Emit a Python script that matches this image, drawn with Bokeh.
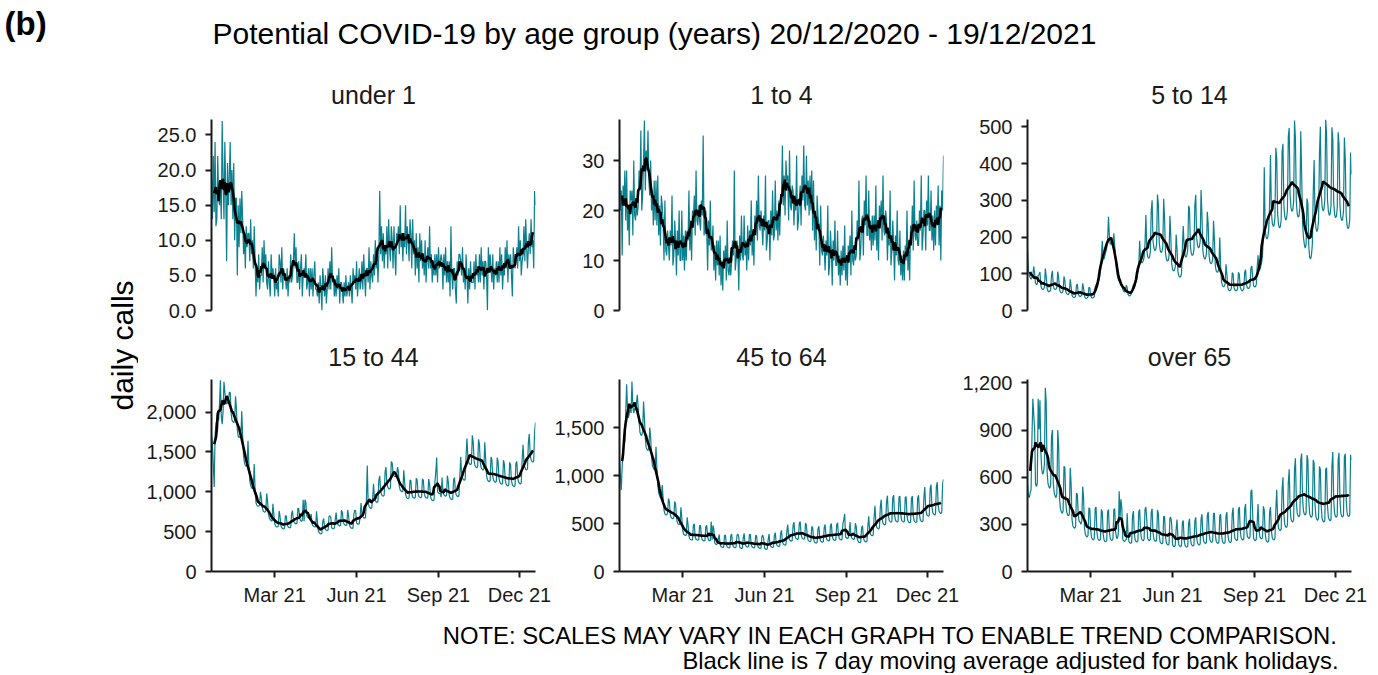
import numpy as np
import pandas as pd
from bokeh.plotting import figure
from bokeh.layouts import column, row
from bokeh.models import Range1d, FixedTicker, NumeralTickFormatter, DatetimeTickFormatter, ColumnDataSource
from bokeh.core.properties import value
from bokeh.embed import file_html
from bokeh.resources import INLINE

START = "2020-12-20"
END = "2021-12-19"
dates = pd.date_range(START, END, freq="D")

groups = ["under 1", "1 to 4", "5 to 14", "15 to 44", "45 to 64", "over 65"]

under_1 = [
    19, 13, 22, 14, 24, 12, 13,
    22, 16, 15, 18, 13, 27, 19,
    13, 24, 17, 7, 21, 15, 19,
    24, 15, 20, 13, 21, 10, 16,
    16, 5, 15, 9, 16, 11, 17,
    13, 8, 11, 6, 12, 9, 11,
    11, 7, 13, 8, 10, 6, 12,
    7, 2, 6, 4, 8, 3, 5,
    5, 9, 4, 10, 6, 8, 4,
    3, 7, 4, 2, 8, 5, 6,
    5, 2, 6, 3, 4, 2, 8,
    7, 4, 9, 3, 6, 5, 5,
    3, 6, 2, 5, 4, 8, 4,
    5, 7, 11, 6, 9, 4, 4,
    7, 3, 6, 8, 2, 5, 6,
    5, 8, 3, 4, 6, 2, 6,
    3, 6, 2, 5, 7, 3, 3,
    2, 4, 1, 5, 3, 0, 6,
    4, 2, 5, 1, 3, 6, 3,
    7, 3, 9, 4, 5, 2, 4,
    2, 5, 3, 6, 1, 4, 4,
    3, 1, 4, 2, 5, 2, 3,
    4, 2, 5, 3, 1, 6, 4,
    5, 3, 7, 2, 4, 6, 3,
    4, 7, 3, 8, 5, 2, 6,
    6, 4, 9, 3, 7, 5, 4,
    8, 5, 10, 6, 9, 4, 8,
    17, 8, 12, 7, 11, 6, 9,
    8, 12, 6, 13, 9, 7, 12,
    10, 6, 12, 8, 5, 11, 10,
    12, 8, 15, 9, 11, 7, 11,
    9, 15, 8, 12, 10, 7, 13,
    11, 6, 13, 8, 10, 5, 11,
    6, 9, 4, 11, 7, 10, 6,
    8, 5, 10, 4, 7, 9, 6,
    12, 6, 8, 4, 7, 5, 8,
    5, 8, 4, 9, 6, 7, 8,
    7, 3, 8, 5, 9, 4, 7,
    4, 7, 2, 12, 5, 3, 6,
    6, 3, 1, 7, 5, 8, 8,
    7, 5, 9, 4, 6, 3, 8,
    5, 1, 6, 3, 7, 4, 4,
    4, 7, 3, 8, 5, 6, 4,
    8, 4, 9, 5, 7, 3, 7,
    7, 5, 0, 9, 6, 8, 6,
    4, 8, 3, 6, 5, 7, 4,
    7, 4, 9, 5, 8, 3, 6,
    5, 9, 6, 10, 4, 8, 6,
    8, 5, 2, 9, 7, 6, 7,
    9, 6, 12, 7, 10, 5, 7,
    8, 12, 7, 13, 9, 6, 9,
    11, 8, 13, 9, 10, 6, 17,
    15,
]

age_1_to_4 = [
    32, 20, 24, 11, 25, 21, 28,
    18, 28, 16, 21, 13, 24, 22,
    24, 15, 30, 19, 18, 22, 19,
    21, 28, 24, 36, 20, 23, 30,
    38, 24, 32, 28, 36, 26, 23,
    30, 20, 24, 17, 26, 18, 26,
    17, 27, 15, 21, 13, 23, 21,
    18, 10, 22, 12, 11, 16, 13,
    10, 16, 13, 23, 9, 11, 18,
    14, 7, 16, 11, 20, 10, 10,
    20, 10, 15, 8, 16, 10, 16,
    14, 24, 12, 18, 10, 20, 18,
    23, 15, 28, 18, 17, 21, 18,
    16, 22, 19, 35, 15, 17, 20,
    16, 8, 18, 13, 22, 12, 13,
    17, 8, 13, 6, 14, 9, 14,
    7, 15, 5, 10, 4, 12, 9,
    13, 6, 18, 8, 7, 10, 7,
    10, 14, 11, 28, 8, 10, 14,
    12, 4, 15, 10, 19, 11, 10,
    19, 11, 14, 8, 17, 10, 16,
    13, 22, 11, 16, 9, 19, 15,
    22, 14, 27, 17, 16, 20, 17,
    13, 19, 16, 27, 12, 14, 18,
    18, 10, 20, 15, 24, 14, 15,
    26, 16, 20, 14, 22, 15, 22,
    23, 33, 21, 27, 19, 30, 26,
    27, 18, 32, 21, 20, 25, 24,
    17, 23, 20, 31, 16, 18, 22,
    25, 17, 27, 22, 33, 21, 20,
    31, 21, 26, 19, 27, 20, 28,
    16, 26, 14, 20, 12, 23, 19,
    17, 9, 21, 12, 11, 15, 12,
    8, 14, 11, 21, 7, 9, 16,
    12, 5, 14, 10, 18, 9, 9,
    16, 7, 11, 5, 12, 7, 13,
    8, 17, 6, 11, 5, 13, 10,
    15, 7, 20, 10, 9, 13, 10,
    11, 18, 14, 26, 10, 12, 18,
    19, 11, 22, 17, 27, 15, 15,
    24, 14, 18, 12, 19, 13, 19,
    14, 25, 12, 18, 10, 21, 18,
    22, 14, 27, 16, 15, 20, 18,
    10, 16, 13, 24, 9, 12, 18,
    13, 6, 15, 11, 20, 10, 9,
    16, 7, 11, 6, 12, 6, 13,
    10, 20, 8, 13, 6, 17, 14,
    21, 12, 26, 15, 14, 18, 13,
    13, 20, 16, 27, 12, 15, 20,
    20, 12, 22, 17, 27, 16, 16,
    24, 14, 19, 12, 20, 13, 21,
    17, 25, 13, 21, 10, 24, 20,
    31,
]

age_5_to_14 = [
    170, 110, 95, 90, 85, 90, 95,
    120, 100, 75, 70, 72, 95, 98,
    105, 68, 60, 57, 58, 63, 114,
    94, 60, 53, 51, 52, 56, 96,
    108, 67, 59, 57, 58, 63, 106,
    90, 57, 50, 48, 49, 54, 93,
    81, 51, 46, 44, 44, 48, 85,
    66, 41, 37, 35, 36, 39, 68,
    72, 45, 40, 38, 39, 42, 74,
    61, 39, 34, 33, 34, 37, 63,
    62, 40, 35, 34, 35, 38, 64,
    70, 62, 70, 80, 90, 110, 148,
    190, 150, 140, 150, 160, 170, 195,
    255, 200, 180, 185, 180, 176, 210,
    175, 140, 110, 95, 85, 80, 85,
    80, 70, 58, 52, 50, 55, 69,
    62, 44, 40, 40, 42, 48, 60,
    70, 60, 70, 80, 90, 105, 120,
    190, 140, 130, 130, 135, 145, 180,
    260, 165, 147, 142, 144, 160, 270,
    300, 190, 170, 163, 165, 180, 316,
    290, 185, 164, 158, 160, 174, 304,
    250, 158, 140, 135, 136, 148, 258,
    200, 126, 112, 108, 109, 118, 207,
    168, 106, 94, 91, 92, 100, 175,
    230, 170, 150, 145, 150, 165, 285,
    277, 176, 156, 150, 152, 166, 288,
    315, 200, 178, 171, 173, 189, 328,
    258, 164, 146, 140, 142, 155, 269,
    234, 149, 132, 127, 129, 140, 244,
    192, 122, 108, 104, 105, 115, 199,
    121, 77, 68, 65, 66, 72, 126,
    99, 63, 56, 54, 55, 60, 103,
    100, 62, 56, 54, 54, 60, 104,
    98, 64, 57, 53, 55, 59, 104,
    111, 70, 62, 60, 61, 66, 116,
    121, 90, 68, 64, 65, 70, 117,
    150, 110, 110, 120, 130, 150, 210,
    390, 220, 200, 195, 200, 220, 290,
    423, 268, 238, 229, 232, 253, 443,
    415, 263, 234, 225, 228, 247, 432,
    454, 288, 256, 246, 250, 272, 474,
    497, 315, 280, 270, 273, 298, 517,
    469, 297, 264, 254, 257, 281, 488,
    370, 240, 200, 180, 170, 180, 305,
    290, 175, 145, 140, 150, 180, 320,
    410, 255, 225, 215, 220, 245, 425,
    500, 317, 282, 271, 275, 299, 520,
    479, 303, 270, 259, 263, 286, 499,
    466, 295, 262, 253, 256, 279, 485,
    452, 286, 254, 245, 248, 270, 471,
    412, 261, 232, 223, 226, 246, 430,
    370,
]

age_15_to_44 = [
    1730, 1600, 1350, 1060, 1700, 1860, 1900,
    2000, 1900, 2100, 2400, 1950, 1850, 2010,
    2380, 2250, 2150, 2100, 2120, 2150, 2250,
    2250, 2000, 1900, 1880, 1870, 1900, 2200,
    2040, 1780, 1700, 1680, 1690, 1700, 2010,
    1700, 1450, 1370, 1330, 1320, 1340, 1640,
    1330, 1140, 1080, 1050, 1040, 1060, 1350,
    1000, 860, 830, 820, 820, 830, 1000,
    920, 800, 760, 750, 745, 757, 980,
    880, 720, 670, 650, 640, 630, 850,
    720, 600, 570, 560, 560, 570, 760,
    690, 575, 550, 540, 535, 540, 700,
    700, 590, 562, 553, 548, 555, 727,
    765, 640, 615, 604, 598, 606, 792,
    790, 670, 640, 630, 640, 900, 630,
    900, 870, 700, 680, 670, 680, 680,
    720, 600, 575, 565, 560, 565, 755,
    620, 510, 485, 478, 472, 480, 630,
    665, 555, 528, 518, 514, 520, 690,
    700, 680, 550, 540, 535, 545, 650,
    740, 618, 590, 578, 572, 580, 767,
    745, 622, 595, 583, 577, 585, 773,
    700, 584, 558, 546, 540, 548, 724,
    770, 760, 610, 598, 592, 600, 690,
    860, 720, 690, 676, 668, 678, 888,
    1330, 860, 820, 800, 790, 800, 900,
    1100, 925, 890, 875, 865, 880, 1150,
    1200, 1010, 965, 950, 945, 960, 1250,
    1310, 1105, 1060, 1040, 1035, 1050, 1380,
    1360, 1230, 1200, 1190, 1190, 1200, 1310,
    1250, 1070, 1020, 1010, 1000, 1010, 1270,
    1120, 970, 930, 920, 915, 925, 1150,
    1140, 980, 935, 925, 920, 930, 1170,
    1150, 985, 940, 930, 925, 935, 1163,
    1145, 980, 938, 926, 920, 930, 1161,
    1100, 945, 905, 893, 888, 897, 1127,
    1250, 1430, 1000, 985, 975, 985, 935,
    1180, 1010, 965, 952, 945, 955, 1203,
    1130, 965, 922, 910, 903, 912, 1153,
    1180, 1005, 960, 946, 940, 950, 1194,
    1440, 1225, 1170, 1155, 1145, 1160, 1455,
    1670, 1430, 1365, 1350, 1340, 1355, 1710,
    1630, 1390, 1330, 1312, 1300, 1318, 1660,
    1600, 1362, 1300, 1284, 1272, 1290, 1622,
    1415, 1205, 1150, 1136, 1126, 1140, 1438,
    1405, 1198, 1143, 1128, 1118, 1132, 1430,
    1375, 1170, 1118, 1103, 1094, 1108, 1397,
    1350, 1148, 1096, 1082, 1072, 1086, 1370,
    1340, 1140, 1088, 1073, 1064, 1078, 1358,
    1380, 1176, 1122, 1107, 1098, 1112, 1405,
    1590, 1370, 1305, 1280, 1275, 1288, 1622,
    1725, 1470, 1403, 1385, 1373, 1390, 1754,
    1870,
]

age_45_to_64 = [
    1150, 1000, 850, 1100, 1250, 1350, 1350,
    1650, 1950, 1700, 1600, 1650, 1700, 1650,
    1980, 1720, 1650, 1700, 1680, 1750, 1840,
    1700, 1560, 1450, 1420, 1420, 1460, 1770,
    1600, 1380, 1290, 1270, 1260, 1290, 1500,
    1400, 1190, 1100, 1080, 1060, 1060, 1300,
    1080, 900, 820, 790, 770, 760, 900,
    760, 640, 600, 590, 590, 610, 760,
    730, 600, 560, 555, 550, 560, 729,
    700, 560, 510, 495, 490, 495, 670,
    560, 430, 390, 380, 375, 380, 565,
    490, 370, 340, 332, 328, 330, 484,
    495, 365, 336, 330, 325, 330, 479,
    480, 360, 330, 322, 318, 324, 470,
    480, 360, 328, 320, 322, 520, 330,
    480, 440, 300, 285, 280, 290, 340,
    385, 285, 260, 255, 250, 255, 375,
    380, 280, 255, 250, 246, 250, 369,
    390, 285, 258, 252, 248, 255, 377,
    390, 360, 255, 245, 240, 246, 350,
    398, 292, 265, 258, 254, 260, 387,
    385, 282, 256, 250, 245, 252, 374,
    375, 276, 250, 244, 240, 245, 365,
    378, 340, 245, 235, 230, 237, 330,
    390, 287, 260, 254, 250, 255, 376,
    405, 298, 270, 264, 260, 266, 393,
    428, 315, 285, 278, 274, 280, 415,
    490, 365, 330, 322, 316, 323, 479,
    515, 385, 348, 340, 334, 340, 503,
    520, 388, 350, 342, 337, 343, 506,
    482, 358, 324, 316, 311, 317, 468,
    460, 340, 308, 300, 296, 302, 444,
    472, 350, 317, 309, 304, 311, 457,
    490, 365, 330, 322, 317, 323, 478,
    500, 372, 336, 328, 323, 330, 485,
    508, 378, 342, 334, 328, 335, 498,
    540, 600, 360, 350, 345, 350, 395,
    515, 385, 348, 340, 334, 340, 503,
    466, 346, 313, 305, 300, 307, 455,
    478, 355, 321, 313, 308, 314, 466,
    575, 428, 387, 378, 372, 380, 560,
    685, 510, 462, 450, 444, 454, 670,
    750, 556, 504, 492, 485, 494, 730,
    790, 588, 532, 520, 512, 522, 771,
    795, 590, 535, 522, 515, 524, 775,
    785, 592, 530, 522, 515, 520, 771,
    780, 582, 526, 514, 507, 516, 761,
    786, 585, 530, 517, 510, 519, 767,
    795, 593, 537, 524, 517, 527, 777,
    880, 660, 597, 582, 575, 585, 867,
    905, 675, 610, 596, 588, 598, 886,
    930, 692, 626, 612, 603, 614, 907,
    960,
]

over_65 = [
    560, 480, 470, 500, 520, 850, 1100,
    1000, 900, 560, 540, 560, 1100, 905,
    1090, 760, 650, 620, 630, 680, 1170,
    1080, 640, 560, 540, 530, 550, 860,
    900, 560, 500, 480, 470, 495, 900,
    800, 460, 400, 380, 370, 385, 670,
    660, 440, 380, 360, 355, 365, 660,
    560, 330, 290, 280, 275, 285, 500,
    490, 360, 320, 315, 300, 321, 540,
    470, 280, 235, 225, 220, 230, 405,
    400, 260, 215, 205, 200, 210, 400,
    410, 250, 210, 200, 198, 206, 395,
    380, 240, 200, 192, 190, 196, 380,
    395, 250, 210, 200, 198, 207, 395,
    400, 250, 215, 210, 240, 510, 345,
    460, 400, 205, 195, 190, 200, 205,
    370, 232, 190, 182, 180, 185, 355,
    385, 240, 200, 190, 188, 195, 380,
    395, 255, 210, 200, 195, 205, 395,
    410, 330, 210, 200, 196, 204, 375,
    400, 250, 205, 195, 192, 200, 392,
    370, 230, 188, 180, 176, 184, 352,
    350, 222, 182, 172, 168, 176, 340,
    345, 300, 170, 160, 158, 165, 270,
    330, 208, 170, 162, 158, 165, 312,
    325, 200, 166, 158, 155, 160, 306,
    335, 212, 175, 165, 162, 170, 321,
    345, 220, 180, 172, 168, 176, 335,
    365, 235, 192, 183, 178, 186, 355,
    380, 245, 200, 190, 186, 193, 370,
    370, 236, 192, 183, 178, 187, 355,
    365, 235, 192, 182, 178, 187, 355,
    378, 242, 198, 188, 184, 192, 368,
    405, 260, 212, 202, 197, 205, 395,
    410, 262, 215, 205, 200, 208, 397,
    430, 275, 225, 215, 210, 220, 511,
    520, 360, 210, 200, 196, 204, 305,
    430, 272, 222, 212, 208, 215, 415,
    390, 246, 200, 190, 186, 195, 378,
    410, 262, 214, 204, 200, 210, 397,
    520, 340, 275, 265, 260, 270, 520,
    600, 370, 300, 285, 280, 295, 565,
    650, 410, 335, 320, 315, 330, 650,
    720, 455, 370, 355, 348, 362, 715,
    750, 470, 385, 365, 360, 374, 740,
    710, 450, 368, 350, 345, 357, 710,
    690, 430, 350, 332, 326, 340, 668,
    650, 412, 336, 320, 315, 327, 650,
    660, 420, 345, 330, 322, 333, 670,
    760, 455, 370, 350, 345, 356, 710,
    755, 460, 372, 352, 347, 358, 730,
    750, 462, 375, 355, 350, 360, 743,
    710,
]

series = [under_1, age_1_to_4, age_5_to_14, age_15_to_44, age_45_to_64, over_65]
y_max = [27.2, 38.2, 520, 2410, 2000, 1222]
y_ticks = [
    [0, 5, 10, 15, 20, 25],
    [0, 10, 20, 30],
    [0, 100, 200, 300, 400, 500],
    [0, 500, 1000, 1500, 2000],
    [0, 500, 1000, 1500],
    [0, 300, 600, 900, 1200],
]
y_formats = ["0.0", "0,0", "0,0", "0,0", "0,0", "0,0"]
x_tick_dates = ["2021-03-01", "2021-06-01", "2021-09-01", "2021-12-01"]

TITLE = "Potential COVID-19 by age group (years) 20/12/2020 - 19/12/2021"
NOTE1 = "NOTE: SCALES MAY VARY IN EACH GRAPH TO ENABLE TREND COMPARISON."
NOTE2 = "Black line is 7 day moving average adjusted for bank holidays."

FONT = "Liberation Sans"
TEAL = "#0a7f8e"
INK = "#1a1a1a"


def blank_fig(w, h):
    f = figure(width=w, height=h, x_range=Range1d(0, w), y_range=Range1d(0, h),
               title=None, output_backend="svg", toolbar_location=None,
               min_border=0, min_border_left=0, min_border_right=0,
               min_border_top=0, min_border_bottom=0)
    f.axis.visible = False
    f.grid.visible = False
    f.outline_line_color = None
    return f


def panel(i):
    top = i < 3
    first = i % 3 == 0
    vals = series[i]
    assert len(vals) == len(dates), (groups[i], len(vals))
    ma = pd.Series(vals, dtype=float).rolling(7, center=True).mean()
    src = ColumnDataSource(dict(date=dates, val=vals, ma=ma.values))
    p = figure(frame_width=324, frame_height=191 if top else 192,
               x_axis_type="datetime",
               x_range=Range1d(dates[0], dates[-1]),
               y_range=Range1d(0, y_max[i]),
               output_backend="svg", toolbar_location=None,
               min_border_left=73 if first else 68,
               min_border_right=16,
               min_border_top=50 if top else 57,
               min_border_bottom=12 if top else 40)
    p.outline_line_color = None
    p.grid.visible = False
    p.title.text = groups[i]
    p.title.align = "center"
    p.title.text_font = FONT
    p.title.text_font_size = "25px"
    p.title.text_font_style = "normal"
    p.title.text_color = INK
    p.title.standoff = 21 if top else 18

    p.line("date", "val", source=src, color=TEAL, line_width=1.2)
    p.line("date", "ma", source=src, color="black", line_width=2.6)

    ya = p.yaxis[0]
    ya.ticker = FixedTicker(ticks=y_ticks[i])
    ya.formatter = NumeralTickFormatter(format=y_formats[i])
    ya.axis_line_width = 2
    ya.axis_line_color = INK
    ya.major_tick_line_width = 2
    ya.major_tick_line_color = INK
    ya.major_tick_out = 6
    ya.major_tick_in = 0
    ya.minor_tick_line_color = None
    ya.major_label_standoff = 9
    ya.major_label_text_font = FONT
    ya.major_label_text_font_size = "20px"
    ya.major_label_text_color = INK

    xa = p.xaxis[0]
    if top:
        xa.visible = False
    else:
        ticks = [pd.Timestamp(d).value / 1e6 for d in x_tick_dates]
        xa.ticker = FixedTicker(ticks=ticks)
        fmt = "%b %y"
        xa.formatter = DatetimeTickFormatter(
            microseconds=fmt, milliseconds=fmt, seconds=fmt, minsec=fmt,
            minutes=fmt, hourmin=fmt, hours=fmt, days=fmt, months=fmt, years=fmt)
        xa.axis_line_width = 2
        xa.axis_line_color = INK
        xa.major_tick_line_width = 2
        xa.major_tick_line_color = INK
        xa.major_tick_out = 6
        xa.major_tick_in = 0
        xa.minor_tick_line_color = None
        xa.major_label_standoff = 6
        xa.major_label_text_font = FONT
        xa.major_label_text_font_size = "20px"
        xa.major_label_text_color = INK
    return p


panels = [panel(i) for i in range(6)]

header = blank_fig(1362, 68)
header.text(x=[4], y=[45], text=["(b)"], text_font=value(FONT), text_font_size="33px",
            text_font_style="bold", text_color="black", text_baseline="middle", text_align="left")
header.text(x=[212], y=[35.5], text=[TITLE], text_font=value(FONT), text_font_size="30px",
            text_color="black", text_baseline="middle", text_align="left")

ylab = blank_fig(138, 542)
ylab.text(x=[122], y=[200], text=["daily calls"], text_font=value(FONT), text_font_size="30px",
          text_color="black", angle=np.pi / 2, text_baseline="middle", text_align="left")

footer = blank_fig(1362, 62)
footer.text(x=[1338, 1338], y=[38.5, 13.5], text=[NOTE1, NOTE2], text_font=value(FONT),
            text_font_size="23.8px", text_color="black", text_baseline="middle", text_align="right")

grid = column(row(*panels[:3]), row(*panels[3:]))
layout = column(header, row(ylab, grid), footer)

open("out.html", "w").write(file_html(layout, INLINE))
